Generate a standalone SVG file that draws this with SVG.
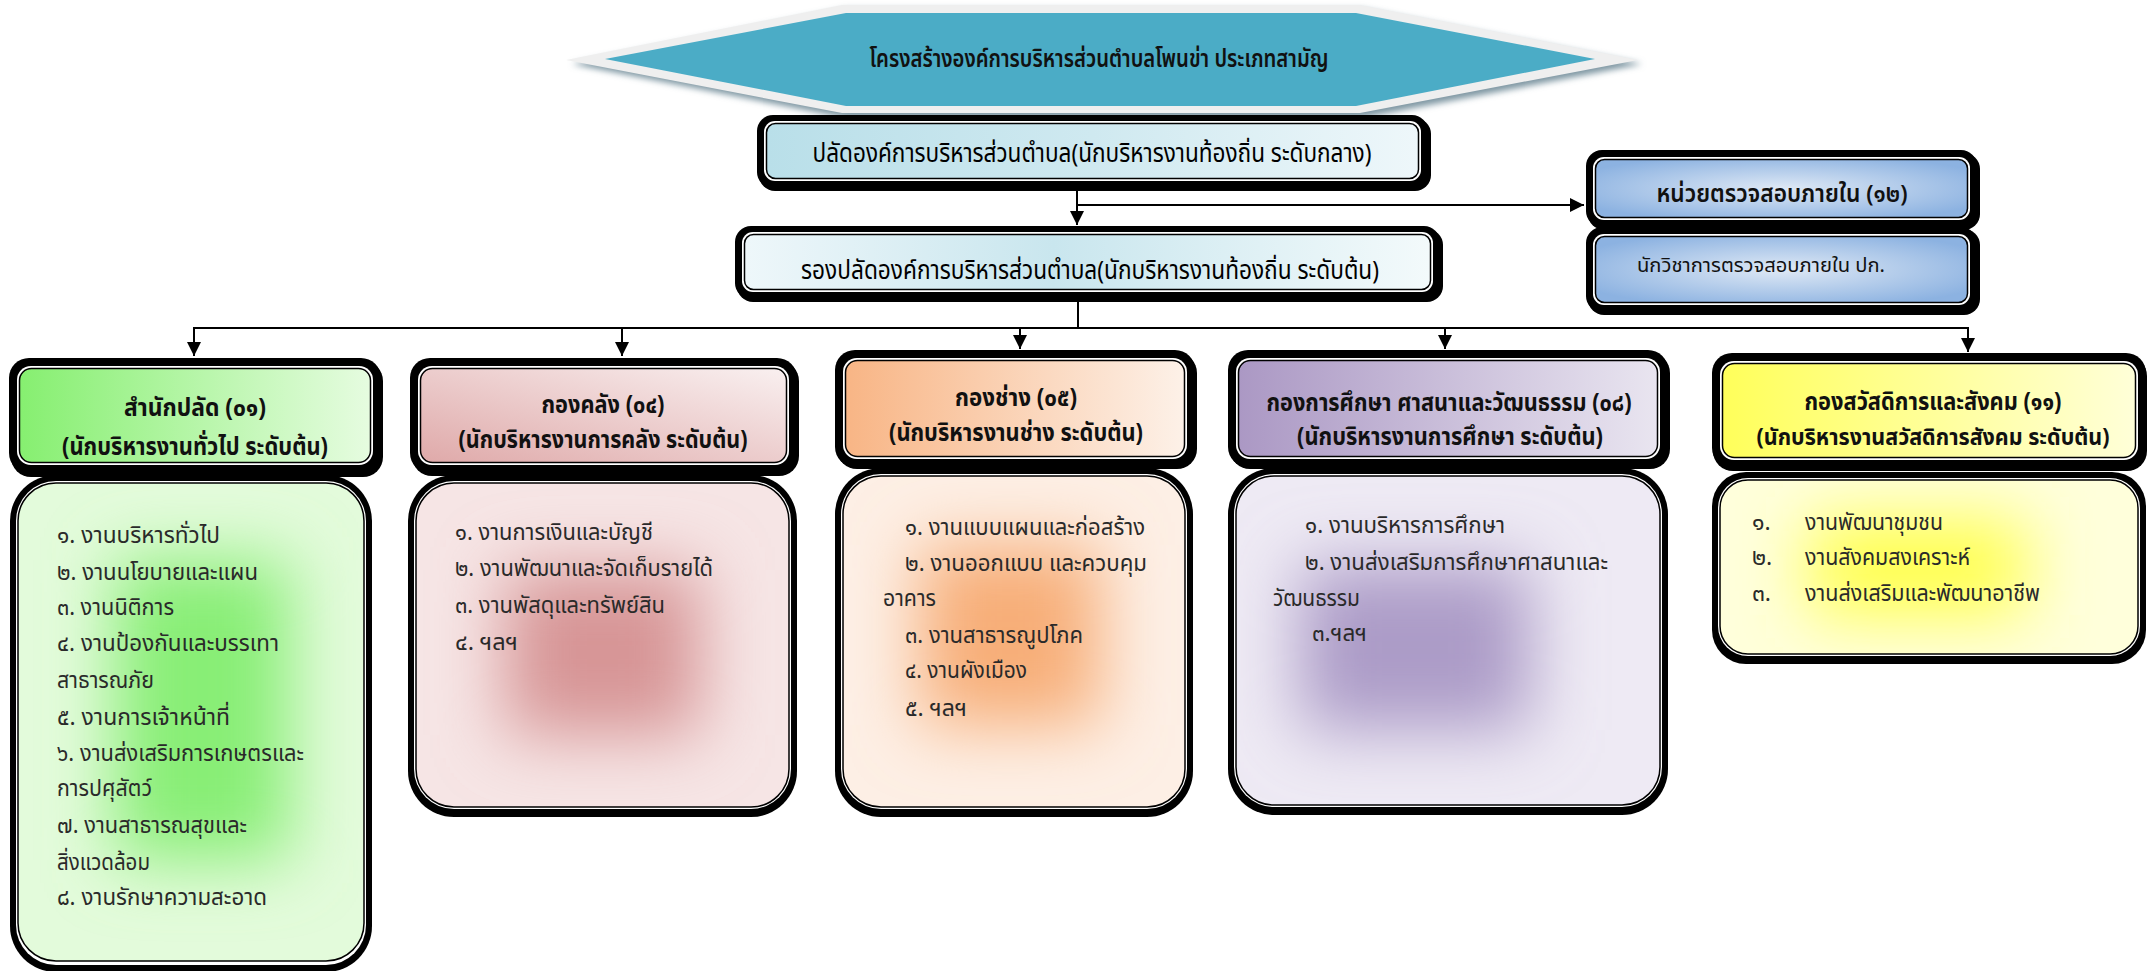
<svg xmlns="http://www.w3.org/2000/svg" width="2147" height="971" viewBox="0 0 2147 971">
<defs>
<style>
text{font-family:"Noto Sans Thai","Noto Sans","DejaVu Sans",sans-serif;fill:#111}
.hd{font-size:25px;font-weight:bold;text-anchor:middle}
.bd{font-size:23px;fill:#2a2a2a}
.top{font-size:26px;text-anchor:middle;fill:#000}
.conn{stroke:#000;stroke-width:2;fill:none}
.blk{fill:#000}
.wht{fill:#fff}
.in{stroke:#000;stroke-width:1.5}
</style>
<filter id="blur" x="-60%" y="-60%" width="220%" height="220%"><feGaussianBlur stdDeviation="34"/></filter>
<filter id="sblur" x="-10%" y="-30%" width="120%" height="160%"><feGaussianBlur stdDeviation="3"/></filter>
<marker id="arr" viewBox="0 0 14 16" refX="14" refY="8" markerWidth="15" markerHeight="16" markerUnits="userSpaceOnUse" orient="auto"><path d="M0,1 L14,8 L0,15 z" fill="#000"/></marker>
<linearGradient id="gTop1" x1="0" y1="0" x2="1" y2="0"><stop offset="0" stop-color="#b9dfe9"/><stop offset="0.5" stop-color="#cfe9f0"/><stop offset="1" stop-color="#eef7fa"/></linearGradient>
<linearGradient id="gTop2" x1="0" y1="0" x2="1" y2="0"><stop offset="0" stop-color="#eef7fa"/><stop offset="0.45" stop-color="#c9e6ee"/><stop offset="1" stop-color="#f3fafb"/></linearGradient>
<radialGradient id="gAud" cx="0.5" cy="0.5" r="0.6"><stop offset="0" stop-color="#dfe9f5"/><stop offset="1" stop-color="#8cb2e1"/></radialGradient>
<linearGradient id="gH1" x1="0" y1="0" x2="1" y2="0"><stop offset="0" stop-color="#86ef70"/><stop offset="1" stop-color="#e6fce0"/></linearGradient>
<linearGradient id="gH2" x1="0" y1="1" x2="1" y2="0"><stop offset="0" stop-color="#dfa9a9"/><stop offset="1" stop-color="#f9f0f0"/></linearGradient>
<linearGradient id="gH3" x1="0" y1="0" x2="1" y2="0"><stop offset="0" stop-color="#f8b585"/><stop offset="1" stop-color="#fdf1e8"/></linearGradient>
<linearGradient id="gH4" x1="0" y1="0" x2="1" y2="0"><stop offset="0" stop-color="#ab98c4"/><stop offset="1" stop-color="#e9e5f0"/></linearGradient>
<linearGradient id="gH5" x1="0" y1="0" x2="1" y2="0"><stop offset="0" stop-color="#ffff5a"/><stop offset="1" stop-color="#ffffd8"/></linearGradient>
<clipPath id="c1"><rect x="18" y="483" width="346" height="478" rx="38"/></clipPath>
<clipPath id="c2"><rect x="416" y="483" width="373" height="324" rx="38"/></clipPath>
<clipPath id="c3"><rect x="843" y="476" width="342" height="331" rx="38"/></clipPath>
<clipPath id="c4"><rect x="1236" y="476" width="424" height="329" rx="38"/></clipPath>
<clipPath id="c5"><rect x="1720" y="480" width="418" height="174" rx="28"/></clipPath>
</defs>
<rect width="2147" height="971" fill="#fff"/>

<g id="title">
<polygon points="572,64 846,9 1362,9 1642,64 1362,118 846,118" fill="#7f97a3" filter="url(#sblur)"/>
<polygon points="566,60 842,5 1360,5 1638,60 1360,113 842,113" fill="#efefef"/>
<polygon points="605,59 846,13 1356,13 1595,59 1356,106 846,106" fill="#4bacc6"/>
<text x="1099" y="67" font-size="24" font-weight="600" fill="#000" text-anchor="middle" textLength="459" lengthAdjust="spacingAndGlyphs">โครงสร้างองค์การบริหารส่วนตำบลโพนข่า ประเภทสามัญ</text>
</g>

<g id="connectors">
<line class="conn" x1="1077" y1="188" x2="1077" y2="225" marker-end="url(#arr)"/>
<line class="conn" x1="1077" y1="205" x2="1584" y2="205" marker-end="url(#arr)"/>
<line class="conn" x1="1078" y1="298" x2="1078" y2="328"/>
<line class="conn" x1="193" y1="328" x2="1969" y2="328"/>
<line class="conn" x1="194" y1="328" x2="194" y2="356" marker-end="url(#arr)"/>
<line class="conn" x1="622" y1="328" x2="622" y2="356" marker-end="url(#arr)"/>
<line class="conn" x1="1020" y1="328" x2="1020" y2="349" marker-end="url(#arr)"/>
<line class="conn" x1="1445" y1="328" x2="1445" y2="349" marker-end="url(#arr)"/>
<line class="conn" x1="1968" y1="328" x2="1968" y2="352" marker-end="url(#arr)"/>
</g>

<g id="palad">
<rect class="blk" x="759" y="118" width="672" height="73" rx="16"/>
<rect class="blk" x="757" y="115" width="671" height="73" rx="16"/>
<rect class="wht" x="764" y="121" width="657" height="60" rx="11"/>
<rect class="in" x="766.5" y="123.5" width="652" height="55" rx="9" fill="url(#gTop1)"/>
<text class="top" x="1092" y="162" textLength="559" lengthAdjust="spacingAndGlyphs">ปลัดองค์การบริหารส่วนตำบล(นักบริหารงานท้องถิ่น ระดับกลาง)</text>
</g>

<g id="rong">
<rect class="blk" x="737" y="229" width="706" height="73" rx="16"/>
<rect class="blk" x="735" y="226" width="705" height="73" rx="16"/>
<rect class="wht" x="742" y="232" width="691" height="60" rx="11"/>
<rect class="in" x="744.5" y="234.5" width="686" height="55" rx="9" fill="url(#gTop2)"/>
<text class="top" x="1090" y="279" textLength="578" lengthAdjust="spacingAndGlyphs">รองปลัดองค์การบริหารส่วนตำบล(นักบริหารงานท้องถิ่น ระดับต้น)</text>
</g>

<g id="audit">
<rect class="blk" x="1588" y="153" width="392" height="77" rx="16"/>
<rect class="blk" x="1586" y="150" width="391" height="77" rx="16"/>
<rect class="wht" x="1593" y="157" width="377" height="63" rx="11"/>
<rect class="in" x="1595.5" y="159.5" width="372" height="58" rx="9" fill="url(#gAud)"/>
<text x="1782" y="202" font-size="24" font-weight="600" text-anchor="middle" textLength="251" lengthAdjust="spacingAndGlyphs">หน่วยตรวจสอบภายใน (๑๒)</text>
</g>
<g id="audit-staff">
<rect class="blk" x="1588" y="229" width="392" height="86" rx="16"/>
<rect class="blk" x="1586" y="227" width="391" height="85" rx="16"/>
<rect class="wht" x="1593" y="234" width="377" height="71" rx="11"/>
<rect class="in" x="1595.5" y="236.5" width="372" height="66" rx="9" fill="url(#gAud)"/>
<text x="1637" y="272" font-size="19" textLength="248" lengthAdjust="spacingAndGlyphs">นักวิชาการตรวจสอบภายใน ปก.</text>
</g>

<g id="col1-header">
<rect class="blk" x="11" y="361" width="372" height="116" rx="20"/>
<rect class="blk" x="9" y="358" width="372" height="115" rx="20"/>
<rect class="wht" x="17" y="366" width="356" height="99" rx="14"/>
<rect class="in" x="19.5" y="368.5" width="351" height="94" rx="12" fill="url(#gH1)"/>
<text class="hd" x="195" y="416" textLength="142" lengthAdjust="spacingAndGlyphs">สำนักปลัด (๐๑)</text>
<text class="hd" x="195" y="455" textLength="266" lengthAdjust="spacingAndGlyphs">(นักบริหารงานทั่วไป ระดับต้น)</text>
</g>
<g id="col1-body">
<rect class="blk" x="10" y="475" width="362" height="497" rx="46"/>
<rect class="wht" x="16" y="481" width="350" height="484" rx="40"/>
<g clip-path="url(#c1)">
<rect x="18" y="483" width="346" height="478" fill="#e3fbdb"/>
<rect x="115" y="560" width="175" height="300" fill="#88ee76" filter="url(#blur)"/>
</g>
<rect x="18" y="483" width="346" height="478" rx="38" fill="none" stroke="#000" stroke-width="1.5"/>
<text class="bd" x="57" y="543" textLength="163" lengthAdjust="spacingAndGlyphs">๑. งานบริหารทั่วไป</text>
<text class="bd" x="57" y="580" textLength="201" lengthAdjust="spacingAndGlyphs">๒. งานนโยบายและแผน</text>
<text class="bd" x="57" y="615" textLength="117" lengthAdjust="spacingAndGlyphs">๓. งานนิติการ</text>
<text class="bd" x="57" y="651" textLength="222" lengthAdjust="spacingAndGlyphs">๔. งานป้องกันและบรรเทา</text>
<text class="bd" x="57" y="688" textLength="97" lengthAdjust="spacingAndGlyphs">สาธารณภัย</text>
<text class="bd" x="57" y="725" textLength="173" lengthAdjust="spacingAndGlyphs">๕. งานการเจ้าหน้าที่</text>
<text class="bd" x="57" y="761" textLength="247" lengthAdjust="spacingAndGlyphs">๖. งานส่งเสริมการเกษตรและ</text>
<text class="bd" x="57" y="796" textLength="95" lengthAdjust="spacingAndGlyphs">การปศุสัตว์</text>
<text class="bd" x="57" y="833" textLength="190" lengthAdjust="spacingAndGlyphs">๗. งานสาธารณสุขและ</text>
<text class="bd" x="57" y="870" textLength="93" lengthAdjust="spacingAndGlyphs">สิ่งแวดล้อม</text>
<text class="bd" x="57" y="905" textLength="210" lengthAdjust="spacingAndGlyphs">๘. งานรักษาความสะอาด</text>
</g>

<g id="col2-header">
<rect class="blk" x="412" y="361" width="387" height="115" rx="20"/>
<rect class="blk" x="410" y="358" width="387" height="115" rx="20"/>
<rect class="wht" x="418" y="366" width="371" height="99" rx="14"/>
<rect class="in" x="420.5" y="368.5" width="366" height="94" rx="12" fill="url(#gH2)"/>
<text class="hd" x="603" y="413" textLength="123" lengthAdjust="spacingAndGlyphs">กองคลัง (๐๔)</text>
<text class="hd" x="603" y="448" textLength="289" lengthAdjust="spacingAndGlyphs">(นักบริหารงานการคลัง ระดับต้น)</text>
</g>
<g id="col2-body">
<rect class="blk" x="408" y="475" width="389" height="342" rx="46"/>
<rect class="wht" x="414" y="481" width="377" height="328" rx="40"/>
<g clip-path="url(#c2)">
<rect x="416" y="483" width="373" height="324" fill="#f6e5e5"/>
<rect x="505" y="570" width="195" height="165" fill="#d79596" filter="url(#blur)"/>
</g>
<rect x="416" y="483" width="373" height="324" rx="38" fill="none" stroke="#000" stroke-width="1.5"/>
<text class="bd" x="455" y="540" textLength="198" lengthAdjust="spacingAndGlyphs">๑. งานการเงินและบัญชี</text>
<text class="bd" x="455" y="576" textLength="258" lengthAdjust="spacingAndGlyphs">๒. งานพัฒนาและจัดเก็บรายได้</text>
<text class="bd" x="455" y="613" textLength="210" lengthAdjust="spacingAndGlyphs">๓. งานพัสดุและทรัพย์สิน</text>
<text class="bd" x="455" y="650" textLength="63" lengthAdjust="spacingAndGlyphs">๔. ฯลฯ</text>
</g>

<g id="col3-header">
<rect class="blk" x="837" y="353" width="360" height="116" rx="20"/>
<rect class="blk" x="835" y="350" width="360" height="117" rx="20"/>
<rect class="wht" x="843" y="358" width="344" height="101" rx="14"/>
<rect class="in" x="845.5" y="360.5" width="339" height="96" rx="12" fill="url(#gH3)"/>
<text class="hd" x="1016" y="406" textLength="122" lengthAdjust="spacingAndGlyphs">กองช่าง (๐๕)</text>
<text class="hd" x="1016" y="441" textLength="254" lengthAdjust="spacingAndGlyphs">(นักบริหารงานช่าง ระดับต้น)</text>
</g>
<g id="col3-body">
<rect class="blk" x="835" y="468" width="358" height="349" rx="46"/>
<rect class="wht" x="841" y="474" width="346" height="335" rx="40"/>
<g clip-path="url(#c3)">
<rect x="843" y="476" width="342" height="331" fill="#fdefe5"/>
<rect x="920" y="545" width="180" height="180" fill="#f7ae78" filter="url(#blur)"/>
</g>
<rect x="843" y="476" width="342" height="331" rx="38" fill="none" stroke="#000" stroke-width="1.5"/>
<text class="bd" x="905" y="535" textLength="240" lengthAdjust="spacingAndGlyphs">๑. งานแบบแผนและก่อสร้าง</text>
<text class="bd" x="905" y="571" textLength="242" lengthAdjust="spacingAndGlyphs">๒. งานออกแบบ และควบคุม</text>
<text class="bd" x="883" y="606" textLength="53" lengthAdjust="spacingAndGlyphs">อาคาร</text>
<text class="bd" x="905" y="643" textLength="178" lengthAdjust="spacingAndGlyphs">๓. งานสาธารณูปโภค</text>
<text class="bd" x="905" y="678" textLength="122" lengthAdjust="spacingAndGlyphs">๔. งานผังเมือง</text>
<text class="bd" x="905" y="716" textLength="62" lengthAdjust="spacingAndGlyphs">๕. ฯลฯ</text>
</g>

<g id="col4-header">
<rect class="blk" x="1230" y="353" width="440" height="116" rx="20"/>
<rect class="blk" x="1228" y="350" width="440" height="117" rx="20"/>
<rect class="wht" x="1236" y="358" width="424" height="101" rx="14"/>
<rect class="in" x="1238.5" y="360.5" width="419" height="96" rx="12" fill="url(#gH4)"/>
<text class="hd" x="1449" y="411" textLength="365" lengthAdjust="spacingAndGlyphs">กองการศึกษา ศาสนาและวัฒนธรรม (๐๘)</text>
<text class="hd" x="1450" y="445" textLength="306" lengthAdjust="spacingAndGlyphs">(นักบริหารงานการศึกษา ระดับต้น)</text>
</g>
<g id="col4-body">
<rect class="blk" x="1228" y="468" width="440" height="347" rx="46"/>
<rect class="wht" x="1234" y="474" width="428" height="333" rx="40"/>
<g clip-path="url(#c4)">
<rect x="1236" y="476" width="424" height="329" fill="#eeeaf4"/>
<rect x="1300" y="565" width="230" height="165" fill="#ac9bc7" filter="url(#blur)"/>
</g>
<rect x="1236" y="476" width="424" height="329" rx="38" fill="none" stroke="#000" stroke-width="1.5"/>
<text class="bd" x="1305" y="533" textLength="200" lengthAdjust="spacingAndGlyphs">๑. งานบริหารการศึกษา</text>
<text class="bd" x="1305" y="570" textLength="303" lengthAdjust="spacingAndGlyphs">๒. งานส่งเสริมการศึกษาศาสนาและ</text>
<text class="bd" x="1273" y="606" textLength="87" lengthAdjust="spacingAndGlyphs">วัฒนธรรม</text>
<text class="bd" x="1312" y="641" textLength="55" lengthAdjust="spacingAndGlyphs">๓.ฯลฯ</text>
</g>

<g id="col5-header">
<rect class="blk" x="1713" y="356" width="434" height="115" rx="20"/>
<rect class="blk" x="1712" y="353" width="434" height="115" rx="20"/>
<rect class="wht" x="1720" y="361" width="418" height="99" rx="14"/>
<rect class="in" x="1722.5" y="363.5" width="413" height="94" rx="12" fill="url(#gH5)"/>
<text class="hd" x="1933" y="410" textLength="257" lengthAdjust="spacingAndGlyphs">กองสวัสดิการและสังคม (๑๑)</text>
<text class="hd" style="font-size:23px" x="1933" y="445" textLength="353" lengthAdjust="spacingAndGlyphs">(นักบริหารงานสวัสดิการสังคม ระดับต้น)</text>
</g>
<g id="col5-body">
<rect class="blk" x="1712" y="472" width="434" height="192" rx="34"/>
<rect class="wht" x="1718" y="478" width="422" height="178" rx="30"/>
<g clip-path="url(#c5)">
<rect x="1720" y="480" width="418" height="174" fill="#ffffdb"/>
<rect x="1810" y="520" width="215" height="95" fill="#ffff48" filter="url(#blur)"/>
</g>
<rect x="1720" y="480" width="418" height="174" rx="28" fill="none" stroke="#000" stroke-width="1.5"/>
<text class="bd" x="1752" y="530">๑.</text>
<text class="bd" x="1805" y="530" textLength="138" lengthAdjust="spacingAndGlyphs">งานพัฒนาชุมชน</text>
<text class="bd" x="1752" y="565">๒.</text>
<text class="bd" x="1805" y="565" textLength="165" lengthAdjust="spacingAndGlyphs">งานสังคมสงเคราะห์</text>
<text class="bd" x="1752" y="601">๓.</text>
<text class="bd" x="1805" y="601" textLength="235" lengthAdjust="spacingAndGlyphs">งานส่งเสริมและพัฒนาอาชีพ</text>
</g>
</svg>
